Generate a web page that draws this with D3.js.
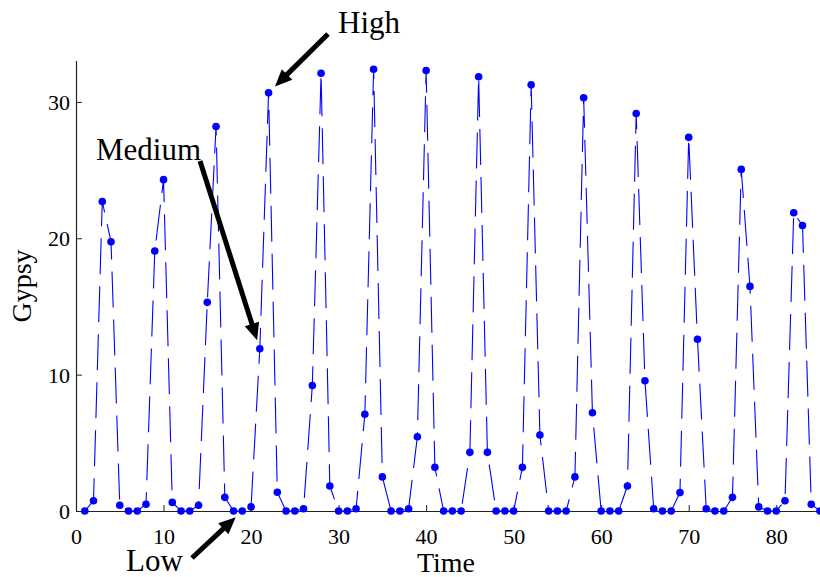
<!DOCTYPE html>
<html><head><meta charset="utf-8">
<script src="https://cdn.jsdelivr.net/npm/d3@7"></script>
<style>html,body{margin:0;padding:0;background:#fff;}svg{display:block;}</style>
</head><body>
<svg id="c" width="820" height="577"></svg>
<script>
const time = [1,2,3,4,5,6,7,8,9,10,11,12,13,14,15,16,17,18,19,20,21,22,23,24,25,26,27,28,29,30,
  31,32,33,34,35,36,37,38,39,40,41,42,43,44,45,46,47,48,49,50,51,52,53,54,55,56,57,58,59,60,
  61,62,63,64,65,66,67,68,69,70,71,72,73,74,75,76,77,78,79,80,81,82,83,84,85];
const gypsy = [0,0.75,22.7,19.75,0.42,0,0,0.5,19.06,24.3,0.63,0,0,0.42,15.3,28.2,1.0,0,0,0.3,
  11.9,30.67,1.37,0,0,0.17,9.2,32.1,1.83,0,0,0.17,7.1,32.4,2.5,0,0,0.17,5.45,32.3,
  3.2,0,0,0,4.3,31.85,4.3,0,0,0,3.2,31.25,5.57,0,0,0,2.5,30.3,7.2,0,
  0,0,1.83,29.15,9.55,0.17,0,0,1.35,27.4,12.6,0.17,0,0,1.0,25.05,16.47,0.3,0,0,
  0.75,21.87,20.94,0.5,0];
const xTicks = [0,10,20,30,40,50,60,70,80];
const yTicks = [0,10,20,30];
const annotations = [
  {text:"High",   tx:338, ty:33,  x1:328, y1:34,  t:22},
  {text:"Medium", tx:96,  ty:160, x1:200, y1:161, t:21},
  {text:"Low",    tx:126, ty:571, x1:192, y1:558, t:19}
];

const svg = d3.select("#c");
const L = 76, R = 820, T = 61, B = 511;
const x = d3.scaleLinear().domain([0,85]).range([L,R]);
const y = d3.scaleLinear().domain([0,33]).range([B,T]);
const font = "'Liberation Serif','Times New Roman',serif";

// axes
const xa = svg.append("g").attr("transform",`translate(0,${B})`)
  .call(d3.axisBottom(x).tickValues(xTicks).tickSize(-6).tickPadding(12).tickFormat(d3.format("d")));
const ya = svg.append("g").attr("transform",`translate(${L},0)`)
  .call(d3.axisLeft(y).tickValues(yTicks).tickSize(-6).tickPadding(12).tickFormat(d3.format("d")));
[xa,ya].forEach(a=>{
  a.select(".domain").attr("stroke","#222").attr("stroke-width",1.2);
  a.selectAll(".tick line").attr("stroke","#222");
  a.selectAll(".tick text").attr("font-family",font).attr("font-size",22).attr("fill","#000");
});
xa.select(".domain").attr("d",`M${L},0.5H${R}`);
ya.select(".domain").attr("d",`M0.5,${B}V${T}`);
xa.selectAll(".tick text").attr("dy","0.95em");
ya.selectAll(".tick text").attr("dx","6").attr("dy","0.34em");

// axis titles
svg.append("text").attr("x",(L+R)/2-2).attr("y",572).attr("text-anchor","middle")
  .attr("font-family",font).attr("font-size",28).text("Time");
svg.append("text").attr("transform",`translate(31,${(T+B)/2}) rotate(-90)`).attr("text-anchor","middle")
  .attr("font-family",font).attr("font-size",28).text("Gypsy");

// line
const pts = time.map((t,i)=>({t, v:gypsy[i]}));
svg.append("path").datum(pts)
  .attr("fill","none").attr("stroke","#0000ff").attr("stroke-width",1.1)
  .attr("stroke-dasharray","36,12")
  .attr("d", d3.line().x(d=>x(d.t)).y(d=>y(d.v)));
svg.append("g").selectAll("circle").data(pts).join("circle")
  .attr("cx",d=>x(d.t)).attr("cy",d=>y(d.v)).attr("r",3.8).attr("fill","#0000ff");

// annotations
annotations.forEach(a=>{
  svg.append("text").attr("x",a.tx).attr("y",a.ty).attr("font-family",font)
    .attr("font-size",31).attr("fill","#000").text(a.text);
  const p = pts[a.t-1];
  let x2 = x(p.t), y2 = y(p.v);
  // stop short of the point
  const dx = x2-a.x1, dy = y2-a.y1, len = Math.hypot(dx,dy);
  const ux = dx/len, uy = dy/len;
  const tipX = x2-ux*9, tipY = y2-uy*9;
  const hl = 17, hw = 7.5;
  const bx = tipX-ux*hl, by = tipY-uy*hl;
  svg.append("line").attr("x1",a.x1).attr("y1",a.y1).attr("x2",bx+ux*2).attr("y2",by+uy*2)
    .attr("stroke","#000").attr("stroke-width",5);
  svg.append("path").attr("d",`M${tipX},${tipY}L${bx-uy*hw},${by+ux*hw}L${bx+uy*hw},${by-ux*hw}Z`)
    .attr("fill","#000");
});
</script>
</body></html>
